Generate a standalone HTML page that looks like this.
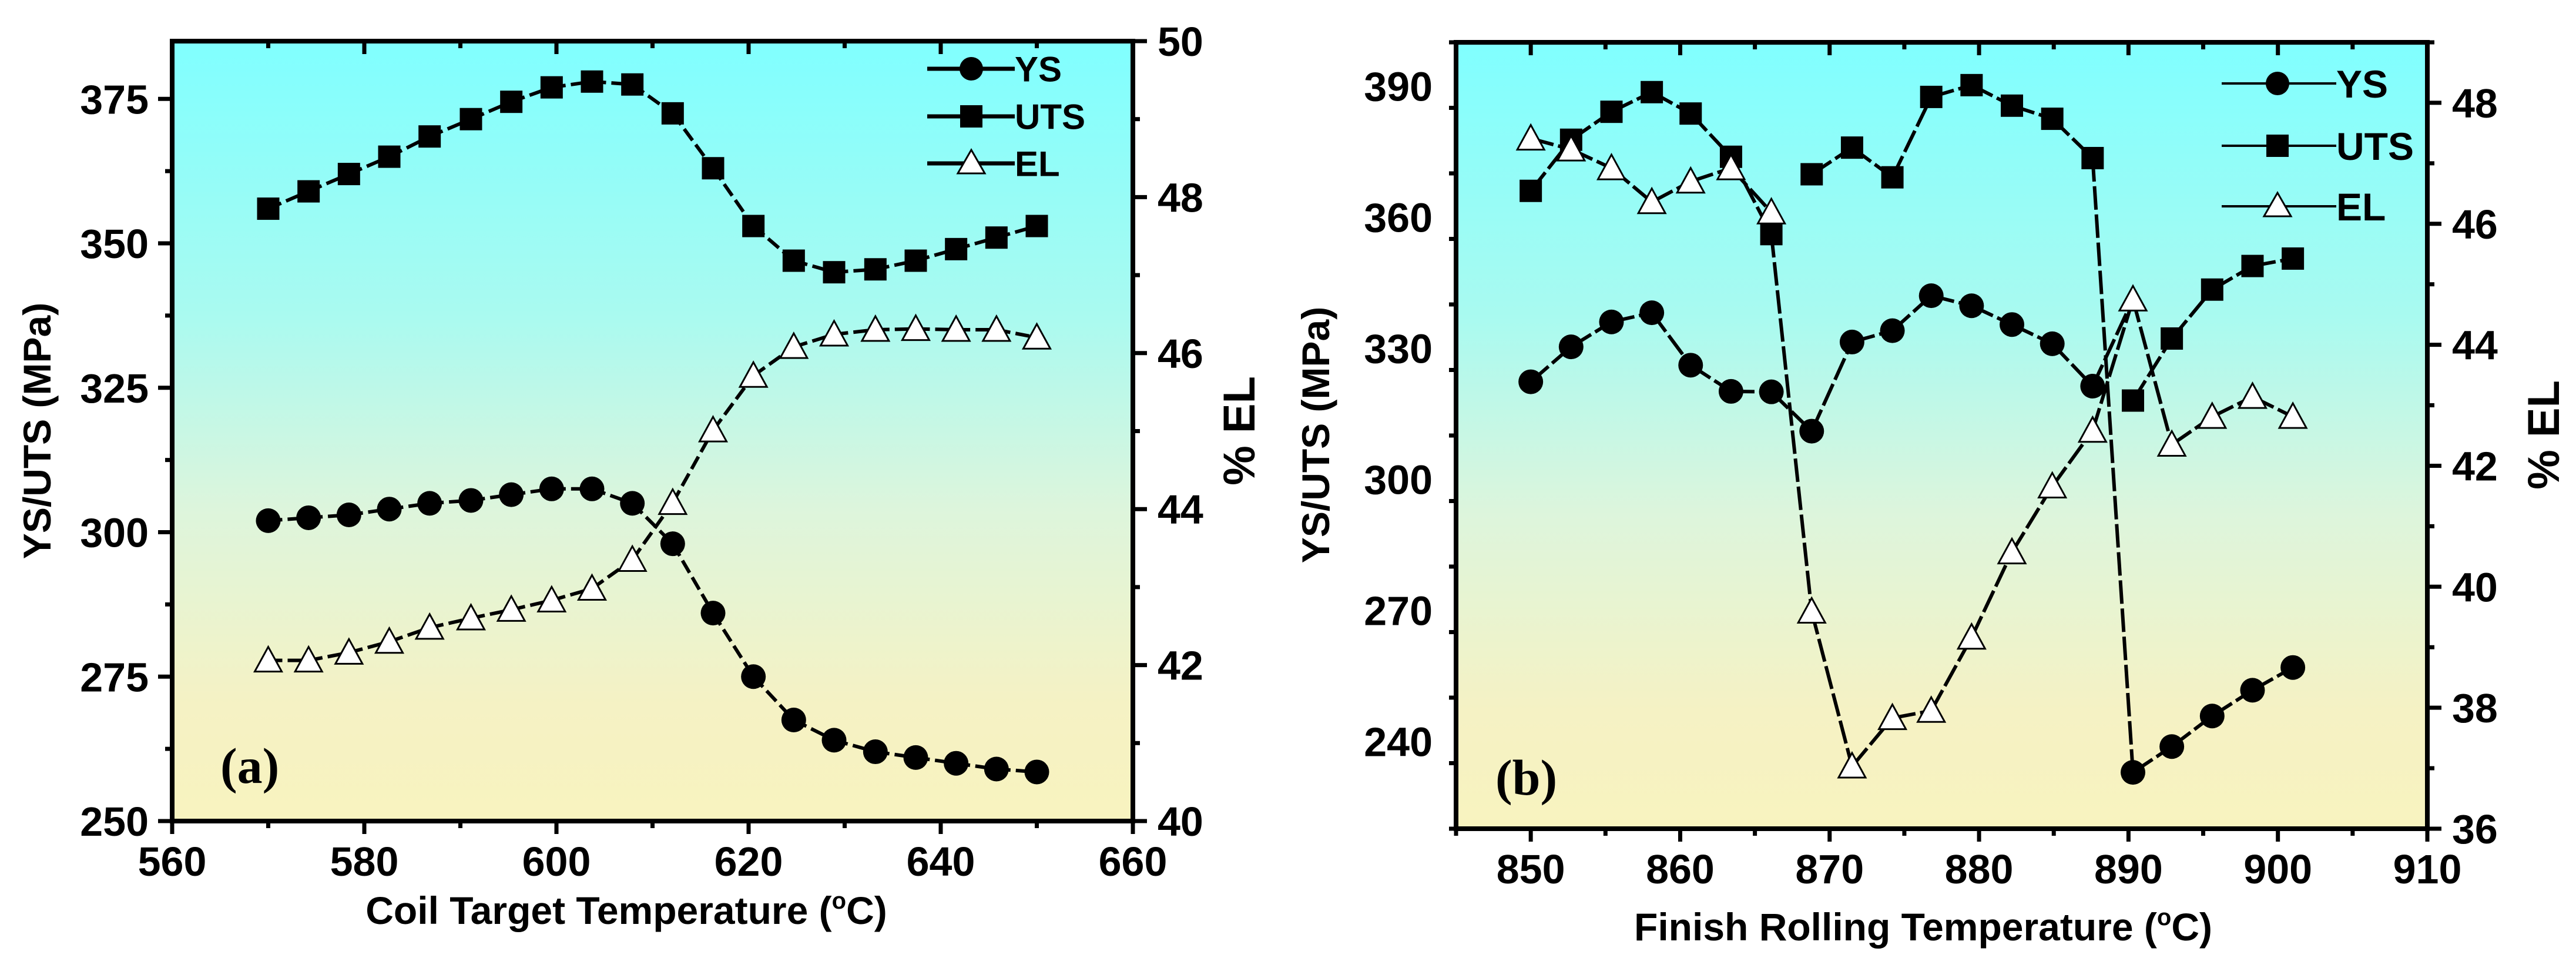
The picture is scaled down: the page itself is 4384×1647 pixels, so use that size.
<!DOCTYPE html>
<html><head><meta charset="utf-8"><style>
html,body{margin:0;padding:0;background:#fff;}
svg{display:block;font-family:"Liberation Sans",Arial,sans-serif;}
</style></head><body>
<svg id="fig" width="4384" height="1647" viewBox="0 0 4384 1647" xmlns="http://www.w3.org/2000/svg">
<defs>
<linearGradient id="bg" x1="0" y1="0" x2="0" y2="1">
<stop offset="0" stop-color="#80ffff"/>
<stop offset="0.35" stop-color="#a9faf0"/>
<stop offset="0.6" stop-color="#ddf5dc"/>
<stop offset="0.85" stop-color="#f5f2c4"/>
<stop offset="1" stop-color="#f8f3bf"/>
</linearGradient>
</defs>
</svg>
<script>
// ---- Panel (a) data ----
const aTemps = [570,574.2,578.4,582.6,586.8,591.1,595.3,599.5,603.7,607.9,612.1,616.3,620.5,624.7,628.9,633.2,637.4,641.6,645.8,650];
const aYS = [302,302.5,303,304,305,305.5,306.5,307.5,307.5,305,298,286,275,267.5,264,262,261,260,259,258.5];
const aUTS = [356,359,362,365,368.5,371.5,374.5,377,378,377.5,372.5,363,353,347,345,345.5,347,349,351,353];
const aEL = [42.06,42.06,42.16,42.3,42.48,42.6,42.71,42.83,42.98,43.35,44.08,45.01,45.71,46.08,46.24,46.3,46.31,46.3,46.3,46.2];
const aXTicks = [560,580,600,620,640,660];
const aYTicks = [250,275,300,325,350,375];
const aY2Ticks = [40,42,44,46,48,50];
// ---- Panel (b) data ----
const bTemps = [850,852.7,855.4,858.1,860.7,863.4,866.1,868.8,871.5,874.2,876.8,879.5,882.2,884.9,887.6,890.3,892.9,895.6,898.3,901];
const bYS = [322.3,330.3,336,338.1,326.1,320.1,320,311,331.4,334,342,339.7,335.4,331,321.3,232.9,238.8,245.8,251.7,256.9];
const bUTS = [366,377.7,384.1,388.6,383.7,373.8,356.1,369.8,375.9,369.1,387.5,390.2,385.5,382.5,373.5,318,332.2,343.4,348.8,350.5];
const bEL = [47.41,47.23,46.92,46.36,46.7,46.92,46.19,39.59,37.03,37.83,37.95,39.16,40.57,41.66,42.58,44.75,42.35,42.81,43.14,42.81];
const bXTicks = [850,860,870,880,890,900,910];
const bYTicks = [240,270,300,330,360,390];
const bY2Ticks = [36,38,40,42,44,46,48];

const NS="http://www.w3.org/2000/svg";
const svg=document.getElementById('fig');
function mk(tag,attrs,parent){const e=document.createElementNS(NS,tag);for(const k in attrs)e.setAttribute(k,attrs[k]);(parent||svg).appendChild(e);return e;}

function panel(P){
  const g=mk('g',{});
  
  
  const sx=v=>P.x0+(v-P.xmin)/(P.xmax-P.xmin)*(P.x1-P.x0);
  const sy=v=>P.y1-(v-P.ymin)/(P.ymax-P.ymin)*(P.y1-P.y0);
  const sy2=v=>P.y1-(v-P.y2min)/(P.y2max-P.y2min)*(P.y1-P.y0);
  const bg=mk('rect',{x:P.x0,y:P.y0,width:P.x1-P.x0,height:P.y1-P.y0,fill:'url(#bg)'},g);
  
  
  const pts={YS:P.ys.map((v,i)=>[sx(P.t[i]),sy(v)]),UTS:P.uts.map((v,i)=>[sx(P.t[i]),sy(v)]),EL:P.el.map((v,i)=>[sx(P.t[i]),sy2(v)])};
  const lg=mk('g',{},g);
  
  
  P.segments.forEach(s=>{
    const a=pts[s[0]][s[1]],b=pts[s[2]][s[3]];
    const l=mk('line',{x1:a[0],y1:a[1],x2:b[0],y2:b[1],stroke:'#000','stroke-width':P.lw,'stroke-dasharray':P.dash},lg);
    
    
  });
  const r=P.ms;
  pts.UTS.forEach((p,i)=>{const m=mk('rect',{x:p[0]-r,y:p[1]-r,width:2*r,height:2*r,fill:'#000'},g);
    
    });
  pts.YS.forEach((p,i)=>{const m=mk('circle',{cx:p[0],cy:p[1],r:r+2,fill:'#000'},g);
    
    });
  pts.EL.forEach((p,i)=>{const t=mk('path',{d:`M${p[0]},${p[1]-r-4}L${p[0]+r+4},${p[1]+r}L${p[0]-r-4},${p[1]+r}Z`,fill:'#fff',stroke:'#000','stroke-width':3},g);
    
    });
  const fr=mk('rect',{x:P.x0,y:P.y0,width:P.x1-P.x0,height:P.y1-P.y0,fill:'none',stroke:'#000','stroke-width':8},g);
  
  
  const tk=(x1,y1,x2,y2)=>mk('line',{x1,y1,x2,y2,stroke:'#000','stroke-width':7},g);
  for(let v=P.xmin;v<=P.xmax+1e-6;v+=P.xminor){
    const major=P.xTicks.some(t=>Math.abs(t-v)<1e-6);
    const L=major?22:12,x=sx(v);
    tk(x,P.y1,x,P.y1+L); tk(x,P.y0,x,P.y0+L);
  }
  P.xTicks.forEach(v=>{const t=mk('text',{x:sx(v),y:P.y1+93,'font-size':70,'font-weight':'bold','text-anchor':'middle'},g);t.textContent=v;
    
    });
  for(let v=P.ymin;v<=P.ymax+1e-6;v+=P.yminor){
    const major=P.yTicks.some(t=>Math.abs(t-v)<1e-6);
    const y=sy(v); tk(P.x0,y,P.x0-(major?24:12),y);
  }
  P.yTicks.forEach(v=>{const t=mk('text',{x:P.x0-40,y:sy(v)+25,'font-size':70,'font-weight':'bold','text-anchor':'end'},g);t.textContent=v;
    
    });
  for(let v=P.y2min;v<=P.y2max+1e-6;v+=1){
    const major=P.y2Ticks.some(t=>Math.abs(t-v)<1e-6);
    const y=sy2(v); tk(P.x1,y,P.x1+(major?24:12),y);
  }
  P.y2Ticks.forEach(v=>{const t=mk('text',{x:P.x1+42,y:sy2(v)+25,'font-size':70,'font-weight':'bold'},g);t.textContent=v;
    
    });
  let t=mk('text',{x:P.xt[0],y:P.xt[1],'font-size':66,'font-weight':'bold','text-anchor':'middle'},g);
  t.innerHTML=P.xtitle;
  
  
  t=mk('text',{x:0,y:0,'font-size':66,'font-weight':'bold','text-anchor':'middle',transform:`translate(${P.yt[0]},${P.yt[1]}) rotate(-90)`},g);
  t.textContent='YS/UTS (MPa)';
  
  
  t=mk('text',{x:0,y:0,'font-size':76,'font-weight':'bold','text-anchor':'middle',transform:`translate(${P.y2t[0]},${P.y2t[1]}) rotate(-90)`},g);
  t.textContent='% EL';
  
  
  t=mk('text',{x:P.lab[0],y:P.lab[1],'font-size':86,'font-weight':'bold','font-family':'Liberation Serif, serif'},g);
  t.textContent=P.label;
  
  
  const names=['YS','UTS','EL'];
  names.forEach((n,i)=>{
    const lgd=mk('g',{},g);
    
    
    const y=P.leg.y[i];
    mk('line',{x1:P.leg.x0,y1:y,x2:P.leg.x1,y2:y,stroke:'#000','stroke-width':P.leg.lw},lgd);
    const cx=P.leg.m;
    if(n==='YS')mk('circle',{cx,cy:y,r:20,fill:'#000'},lgd);
    if(n==='UTS')mk('rect',{x:cx-19,y:y-19,width:38,height:38,fill:'#000'},lgd);
    if(n==='EL')mk('path',{d:`M${cx},${y-23}L${cx+23},${y+17}L${cx-23},${y+17}Z`,fill:'#fff',stroke:'#000','stroke-width':3},lgd);
    const tx=mk('text',{x:P.leg.x1,y:y+P.leg.fs*0.36,'font-size':P.leg.fs,'font-weight':'bold'},lgd);
    tx.textContent=n;
  });
}

panel({name:'panel-a-coil-target',x0:293,x1:1928,y0:70,y1:1397,xmin:560,xmax:660,ymin:250,ymax:385,y2min:40,y2max:50,
  xTicks:aXTicks,xminor:10,yTicks:aYTicks,yminor:12.5,y2Ticks:aY2Ticks,
  t:aTemps,ys:aYS,uts:aUTS,el:aEL,ms:19,lw:6,dash:'24 9',
  segments:[].concat(
    aYS.slice(1).map((_,i)=>['YS',i,'YS',i+1]),
    aUTS.slice(1).map((_,i)=>['UTS',i,'UTS',i+1]),
    aEL.slice(1).map((_,i)=>['EL',i,'EL',i+1])),
  xt:[1066,1572],xtitle:'Coil Target Temperature (<tspan font-size="40" dy="-26">o</tspan><tspan dy="26">C)</tspan>',
  yt:[86,733],y2t:[2135,733],lab:[375,1332],label:'(a)',
  leg:{x0:1578,x1:1727,m:1653,y:[117,198,278],fs:60,lw:7}});

panel({name:'panel-b-finish-rolling',x0:2478,x1:4131,y0:72,y1:1410,xmin:845,xmax:910,ymin:220,ymax:400,y2min:36,y2max:49,
  xTicks:bXTicks,xminor:5,yTicks:bYTicks,yminor:15,y2Ticks:bY2Ticks,
  t:bTemps,ys:bYS,uts:bUTS,el:bEL,ms:19,lw:6,dash:'40 8',
  segments:[].concat(
    bYS.slice(1,15).map((_,i)=>['YS',i,'YS',i+1]),
    [[ 'YS',14,'EL',15]],
    bYS.slice(16).map((_,i)=>['YS',i+15,'YS',i+16]),
    bUTS.slice(1,7).map((_,i)=>['UTS',i,'UTS',i+1]),
    [['UTS',6,'EL',7]],
    bUTS.slice(8,15).map((_,i)=>['UTS',i+7,'UTS',i+8]),
    [['UTS',14,'YS',15]],
    bUTS.slice(16).map((_,i)=>['UTS',i+15,'UTS',i+16]),
    bEL.slice(1,7).map((_,i)=>['EL',i,'EL',i+1]),
    bEL.slice(8).map((_,i)=>['EL',i+7,'EL',i+8])),
  xt:[3273,1600],xtitle:'Finish Rolling Temperature (<tspan font-size="40" dy="-26">o</tspan><tspan dy="26">C)</tspan>',
  yt:[2262,740],y2t:[4355,740],lab:[2545,1352],label:'(b)',
  leg:{x0:3781,x1:3976,m:3876,y:[142,248,351],fs:66,lw:4}});
</script>
</body></html>
